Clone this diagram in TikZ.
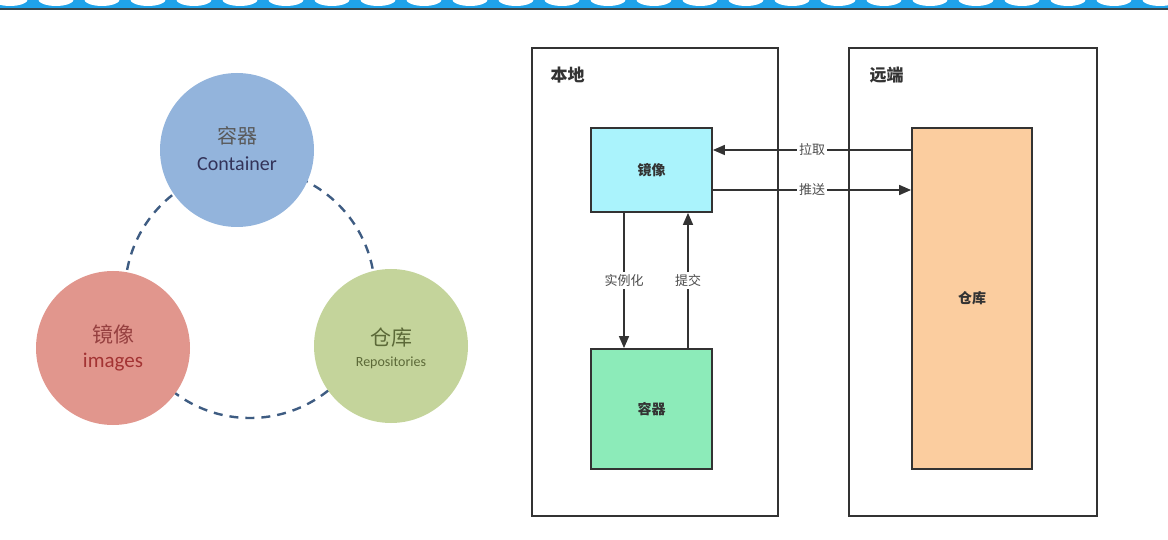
\documentclass[tikz,border=0pt]{standalone}
\usepackage{fontspec}
\setmainfont{Carlito}
\newfontfamily\cjk{Noto Sans CJK SC}
\usetikzlibrary{arrows.meta, positioning}

\definecolor{bannerblue}{HTML}{1FA3EA}
\definecolor{bannerdark}{HTML}{36474F}
\definecolor{ballblue}{HTML}{93B4DC}
\definecolor{ballred}{HTML}{E1968D}
\definecolor{ballgreen}{HTML}{C4D49B}
\definecolor{ringline}{HTML}{3E5C82}
\definecolor{edge}{HTML}{333333}
\definecolor{mirrorfill}{HTML}{AAF3FC}
\definecolor{boxfill}{HTML}{8CEBB9}
\definecolor{storefill}{HTML}{FBCD9F}

\begin{document}
\begin{tikzpicture}[x=1pt, y=-1pt,
        ball/.style={circle, minimum size=154pt, inner sep=0pt, align=center},
        ring/.style={ringline, line width=2.4pt, dash pattern=on 9pt off 7pt},
        zone/.style={rectangle, draw=edge, line width=1.8pt, fill=white},
        zonetitle/.style={anchor=west, font=\cjk\bfseries\fontsize{17}{20}\selectfont, text=edge},
        part/.style={rectangle, draw=edge, line width=1.8pt, font=\cjk\bfseries\fontsize{14}{16}\selectfont, text=edge},
        arrow/.style={-{Triangle[length=12pt, width=10pt]}, draw=edge, line width=1.6pt},
        label/.style={font=\cjk\fontsize{13}{15}\selectfont, text=black!70, fill=white, inner sep=2pt}
    ]
        \useasboundingbox (0,0) rectangle (1168,540);

        % banner along the top
        \fill[bannerblue] (0,0) rectangle (1168,9);
        \foreach \x in {10,56,...,1196}
            \fill[white] (\x,-1) ellipse (18 and 7);
        \fill[bannerdark] (0,8) rectangle (1168,10);

        % LEFT: three circles on a dashed ring
        \draw[ring] (250,293) circle (125);
        \node[ball, fill=ballblue] (cont) at (237,150) {};
        \node[ball, fill=ballred] (imgs) at (113,348) {};
        \node[ball, fill=ballgreen] (repo) at (391,346) {};

        \node[font=\cjk\fontsize{20}{22}\selectfont, text=black!65] at (237,136) {容器};
        \node[font=\fontsize{20}{22}\selectfont, text=black!75!blue!60!gray] at (237,164) {Container};
        \node[font=\cjk\fontsize{21}{23}\selectfont, text=red!45!black!75] at (113,334) {镜像};
        \node[font=\fontsize{21}{23}\selectfont, text=red!55!black!80] at (113,362) {images};
        \node[font=\cjk\fontsize{21}{23}\selectfont, text=olive!60!green!55!black] at (391,338) {仓库};
        \node[font=\fontsize{14}{16}\selectfont, text=olive!60!green!55!black] at (391,363) {Repositories};

        % RIGHT: local and remote
        \node[zone, minimum width=246pt, minimum height=468pt] (local) at (655,282) {};
        \node[zone, minimum width=248pt, minimum height=468pt] (remote) at (973,282) {};
        \node[zonetitle] at (547,75) {本地};
        \node[zonetitle] at (866,75) {远端};

        \node[part, fill=mirrorfill, minimum width=121pt, minimum height=84pt] (mirror) at (651.5,170) {镜像};
        \node[part, fill=boxfill, minimum width=121pt, minimum height=120pt] (box) at (651.5,409) {容器};
        \node[part, fill=storefill, minimum width=120pt, minimum height=341pt] (store) at (972,298.5) {仓库};

        % flows
        \draw[arrow] (store.west |- 0,150) -- (mirror.east |- 0,150) node[pos=0.5, label] {拉取};
        \draw[arrow] (mirror.east |- 0,190) -- (store.west |- 0,190) node[pos=0.5, label] {推送};
        \draw[arrow] (mirror.south -| 624,0) -- (box.north -| 624,0) node[pos=0.5, label] {实例化};
        \draw[arrow] (box.north -| 688,0) -- (mirror.south -| 688,0) node[pos=0.5, label] {提交};
    \end{tikzpicture}
\end{document}
